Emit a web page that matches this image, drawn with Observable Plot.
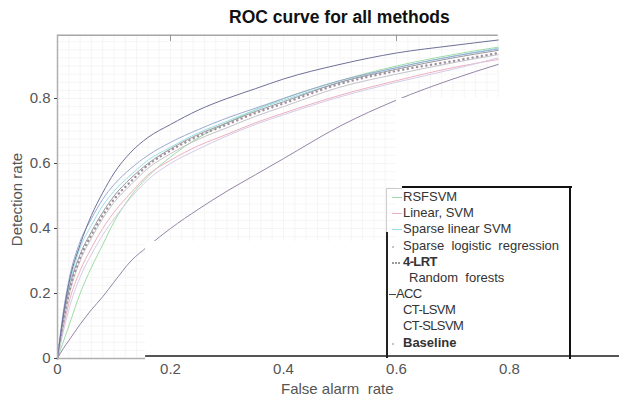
<!DOCTYPE html>
<html>
<head>
<meta charset="utf-8">
<script src="https://cdn.jsdelivr.net/npm/d3@7"></script>
<script src="https://cdn.jsdelivr.net/npm/@observablehq/plot@0.6"></script>
<style>
  html, body { margin: 0; padding: 0; background: #fff; }
  #wrap { position: relative; width: 619px; height: 396px; overflow: hidden; font-family: "Liberation Sans", Arial, sans-serif; }
  #wrap svg { position: absolute; left: 0; top: 0; }
  .ov { position: absolute; white-space: nowrap; color: #333; }
  .leg { position: absolute; font-size: 13px; color: #333; white-space: nowrap; line-height: 14px; }
  .sw { position: absolute; height: 0; width: 8px; }
</style>
</head>
<body>
<div id="wrap"></div>
<script>
// ---- data ----
const fpr = [0, 0.01, 0.02, 0.04, 0.06, 0.08, 0.1, 0.13, 0.16, 0.2, 0.25, 0.3, 0.35, 0.4, 0.5, 0.6, 0.7, 0.78];
const methods = ["RSFSVM", "Linear, SVM", "Sparse linear SVM", "Sparse logistic regression", "4-LRT",
                 "Random forests", "ACC", "CT-LSVM", "CT-SLSVM", "Baseline"];
const rsfsvm   = [0, 0.05, 0.10, 0.20, 0.28, 0.35, 0.42, 0.50, 0.56, 0.62, 0.68, 0.725, 0.765, 0.80, 0.855, 0.90, 0.935, 0.958];
const linSvm   = [0, 0.09, 0.17, 0.27, 0.34, 0.40, 0.45, 0.51, 0.565, 0.61, 0.655, 0.69, 0.725, 0.755, 0.81, 0.855, 0.895, 0.92];
const sparseLinSvm = [0, 0.13, 0.22, 0.34, 0.41, 0.47, 0.515, 0.565, 0.61, 0.65, 0.695, 0.73, 0.765, 0.795, 0.85, 0.895, 0.93, 0.955];
const sparseLogReg = [0, 0.10, 0.19, 0.30, 0.37, 0.43, 0.48, 0.535, 0.585, 0.63, 0.675, 0.71, 0.745, 0.775, 0.835, 0.875, 0.91, 0.935];
const lrt4     = [0, 0.11, 0.20, 0.31, 0.38, 0.44, 0.49, 0.545, 0.595, 0.64, 0.685, 0.72, 0.755, 0.785, 0.845, 0.885, 0.915, 0.94];
const randFor  = [0, 0.08, 0.15, 0.25, 0.32, 0.38, 0.43, 0.495, 0.55, 0.60, 0.645, 0.685, 0.72, 0.75, 0.805, 0.85, 0.89, 0.925];
const acc      = [0, 0.12, 0.21, 0.32, 0.39, 0.45, 0.50, 0.555, 0.60, 0.645, 0.69, 0.725, 0.76, 0.79, 0.85, 0.89, 0.925, 0.948];
const ctLsvm   = [0, 0.14, 0.24, 0.36, 0.43, 0.49, 0.535, 0.585, 0.625, 0.665, 0.705, 0.74, 0.77, 0.80, 0.855, 0.895, 0.93, 0.952];
const ctSlsvm  = [0, 0.13, 0.23, 0.35, 0.44, 0.51, 0.57, 0.635, 0.68, 0.72, 0.765, 0.80, 0.83, 0.86, 0.905, 0.94, 0.963, 0.98];
const baseline = [0, 0.03, 0.055, 0.105, 0.15, 0.19, 0.235, 0.30, 0.345, 0.40, 0.46, 0.515, 0.565, 0.615, 0.715, 0.795, 0.86, 0.905];
const seriesValues = [rsfsvm, linSvm, sparseLinSvm, sparseLogReg, lrt4, randFor, acc, ctLsvm, ctSlsvm, baseline];
const colors = ["#9ddca6", "#eeb0c0", "#9adfe6", "#c2c2c8", "#a0909e", "#d6cbe6", "#98989e", "#9aaad2", "#6e7098", "#9585a8"];
const xTicks = [0, 0.2, 0.4, 0.6, 0.8];
const yTicks = [0, 0.2, 0.4, 0.6, 0.8];
// white patches that hide part of the picture, in data units
const masks = [
  {x1: 0.156, x2: 0.6, y1: -0.02, y2: 0.36},
  {x1: 0.6, x2: 1.0, y1: -0.02, y2: 0.8}
];

const rows = [];
methods.forEach((m, i) => fpr.forEach((f, j) => rows.push({method: m, fpr: f, tpr: seriesValues[i][j], idx: i})));

const gridX = d3.range(0, 0.7801, 0.02);
const gridY = d3.range(0, 0.9951, 0.025);
const lineMarks = methods.map((m, i) => {
  const data = rows.filter(r => r.idx === i);
  if (m === "4-LRT") {
    return Plot.line(data, {x: "fpr", y: "tpr", curve: "monotone-x", stroke: colors[i], strokeWidth: 2.4,
      strokeDasharray: "0.1 4.6", strokeLinecap: "round"});
  }
  return Plot.line(data, {x: "fpr", y: "tpr", curve: "monotone-x", stroke: colors[i], strokeWidth: 1});
});

const chart = Plot.plot({
  width: 619,
  height: 396,
  marginLeft: 57,
  marginRight: 0,
  marginTop: 33,
  marginBottom: 38,
  x: {domain: [0, 0.9947]},
  y: {domain: [0, 1]},
  style: {fontFamily: "Liberation Sans, Arial, sans-serif", fontSize: "15px", color: "#444", background: "#fff"},
  marks: [
    Plot.ruleX(gridX, {y1: 0, y2: 0.995, stroke: "#f0f0f0", strokeWidth: 0.7}),
    Plot.ruleY(gridY, {x1: 0, x2: 0.78, stroke: "#f0f0f0", strokeWidth: 0.7}),
    ...lineMarks,
    Plot.rect(masks, {x1: "x1", x2: "x2", y1: "y1", y2: "y2", fill: "#fff"}),
    // frame
    Plot.ruleY([0.995], {x1: 0, x2: 0.78, stroke: "#a5a5a5", strokeWidth: 1.5}),
    Plot.ruleX([0], {y1: 0, y2: 0.995, stroke: "#b0b0b0", strokeWidth: 1.5}),
    Plot.ruleX([0.2, 0.6], {y1: 0.975, y2: 0.995, stroke: "#999"}),
    Plot.ruleY([0], {x1: 0, x2: 0.156, stroke: "#b0b0b0", strokeWidth: 1.5}),
    Plot.ruleY([0.008], {x1: 0.156, x2: 0.9947, stroke: "#555", strokeWidth: 2}),
    Plot.axisX(xTicks, {tickSize: 0, tickPadding: 5, label: null, fill: "#555",
      tickFormat: d => d === 0 ? "0" : d.toFixed(1)}),
    Plot.axisY(yTicks, {tickSize: 3, tickPadding: 4, label: null, fill: "#555",
      tickFormat: d => d === 0 ? "0" : d.toFixed(1)})
  ]
});

const wrap = document.getElementById("wrap");
wrap.appendChild(chart);

function ov(html, style) {
  const d = document.createElement("div");
  d.className = "ov";
  d.innerHTML = html;
  Object.assign(d.style, style);
  wrap.appendChild(d);
  return d;
}
ov("ROC curve for all methods", {left: "229px", top: "7px", fontWeight: "bold", fontSize: "17.5px", color: "#111"});
ov("False alarm&nbsp; rate", {left: "281px", top: "381px", fontSize: "15px", color: "#555", lineHeight: "15px"});
ov("Detection rate", {left: "-34px", top: "191px", fontSize: "15px", color: "#555", transform: "rotate(-90deg)", transformOrigin: "50% 50%", width: "100px", textAlign: "center"});

// legend box lines
function line(style) { const d = document.createElement("div"); d.style.position = "absolute"; Object.assign(d.style, style); wrap.appendChild(d); }
line({left: "402px", top: "186px", width: "170px", height: "2px", background: "#111"});
line({left: "569px", top: "186px", width: "2px", height: "173px", background: "#111"});
line({left: "386px", top: "232px", width: "1.5px", height: "126px", background: "#222"});
line({left: "386px", top: "188px", width: "1px", height: "44px", background: "#ccc"});
line({left: "386px", top: "188px", width: "16px", height: "1px", background: "#ccc"});

const legY = [197, 213, 229, 246, 262, 278, 294, 310, 326, 343];
const legX = [403, 403, 403, 403, 403, 409, 396, 403, 403, 403];
const legText = ["RSFSVM", "Linear, SVM", "Sparse linear SVM", "Sparse&nbsp; logistic&nbsp; regression", "4-LRT",
                 "Random&nbsp; forests", "ACC", "CT-LSVM", "CT-SLSVM", "Baseline"];
methods.forEach((m, i) => {
  const d = document.createElement("div");
  d.className = "leg";
  d.innerHTML = legText[i];
  d.style.left = legX[i] + "px";
  d.style.top = (legY[i] - 7) + "px";
  if (m === "4-LRT" || m === "Baseline") d.style.fontWeight = "bold";
  if (m === "4-LRT" || m === "ACC" || m === "CT-LSVM" || m === "CT-SLSVM") d.style.letterSpacing = "-0.6px";
  wrap.appendChild(d);
  // sample swatch
  const s = document.createElement("div");
  s.className = "sw";
  s.style.left = (m === "ACC" ? 389 : 392) + "px";
  s.style.top = legY[i] + "px";
  if (m === "4-LRT") { s.style.borderTop = "2px dotted #999"; s.style.width = "8px"; }
  else if (m === "Sparse logistic regression" || m === "Baseline") { s.style.borderTop = "2px solid #c4c4c4"; s.style.width = "2px"; }
  else if (m === "ACC") { s.style.borderTop = "1px solid #444"; s.style.width = "7px"; }
  else if (m === "Random forests" || m === "CT-LSVM" || m === "CT-SLSVM") { s.style.width = "0"; }
  else { s.style.borderTop = "1px solid " + colors[i]; s.style.width = "10px"; }
  wrap.appendChild(s);
});
</script>
</body>
</html>
